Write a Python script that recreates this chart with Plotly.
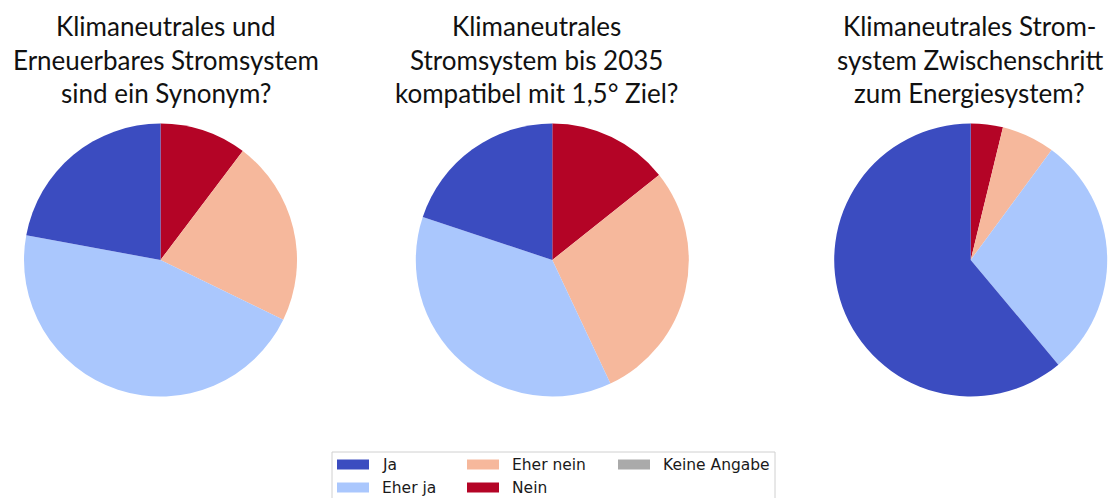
import plotly.graph_objects as go

# ---- data ----
categories = ["Ja", "Eher ja", "Eher nein", "Nein", "Keine Angabe"]
colors = ["#3b4cc0", "#aac7fd", "#f6b89c", "#b40426", "#aaaaaa"]
pie1_values = [22.1, 45.7, 21.9, 10.3, 0]
pie2_values = [19.9, 37.1, 28.7, 14.3, 0]
pie3_values = [61.1, 28.8, 6.3, 3.8, 0]
title_lines = [
    ["Klimaneutrales und", "Erneuerbares Stromsystem", "sind ein Synonym?"],
    ["Klimaneutrales", "Stromsystem bis 2035", "kompatibel mit 1,5° Ziel?"],
    ["Klimaneutrales Strom-", "system Zwischenschritt", "zum Energiesystem?"],
]

W, H = 1110, 498
centers_x = [160.5, 552.3, 970.7]
title_x = [165.5, 536.5, 969.5]
title_y = [26.5, 60, 93.3]
center_y = 260
radius = 136.5

fig = go.Figure()
for vals, cx in zip([pie1_values, pie2_values, pie3_values], centers_x):
    # matplotlib-style: start at 12 o'clock, counterclockwise -> reversed order clockwise
    fig.add_trace(go.Pie(
        labels=categories[::-1], values=vals[::-1],
        marker=dict(colors=colors[::-1], line=dict(width=0)),
        sort=False, direction="clockwise", rotation=0,
        textinfo="none", showlegend=False,
        domain=dict(x=[(cx - radius) / W, (cx + radius) / W],
                    y=[1 - (center_y + radius) / H, 1 - (center_y - radius) / H]),
    ))

annotations = []
for lines, tx in zip(title_lines, title_x):
    for line, ty in zip(lines, title_y):
        annotations.append(dict(
            text=line, x=tx / W, y=1 - ty / H, xref="paper", yref="paper",
            xanchor="center", yanchor="middle", showarrow=False, align="center",
            font=dict(family="Lato", size=26, color="#111111"),
        ))

# ---- legend (manual, column-major like the reference) ----
shapes = []
box_x0, box_x1, box_y0 = 332, 775, 452
shapes.append(dict(type="rect", xref="paper", yref="paper",
                   x0=box_x0 / W, x1=box_x1 / W, y0=1 - box_y0 / H, y1=1 - 510 / H,
                   line=dict(color="#d0d0d0", width=1), fillcolor="white", layer="below"))
col_x = [337, 467, 618]
row_y = [464.5, 487.5]
patch_w, patch_h = 32, 10
for i, (cat, col) in enumerate(zip(categories, colors)):
    c, r = i // 2, i % 2
    px, py = col_x[c], row_y[r]
    shapes.append(dict(type="rect", xref="paper", yref="paper",
                       x0=px / W, x1=(px + patch_w) / W,
                       y0=1 - (py - patch_h / 2) / H, y1=1 - (py + patch_h / 2) / H,
                       line=dict(width=0), fillcolor=col))
    annotations.append(dict(
        text=cat, x=(px + patch_w + 11) / W, y=1 - py / H, xref="paper", yref="paper",
        xanchor="left", yanchor="middle", showarrow=False,
        font=dict(family="DejaVu Sans", size=15.5, color="#1a1a1a"),
    ))

fig.update_layout(
    width=W, height=H, margin=dict(l=0, r=0, t=0, b=0),
    paper_bgcolor="white", plot_bgcolor="white",
    annotations=annotations, shapes=shapes,
)
fig.write_html("out.html", config={"displayModeBar": False},
               post_script="document.body.style.margin='0px';document.body.style.overflow='hidden';")
